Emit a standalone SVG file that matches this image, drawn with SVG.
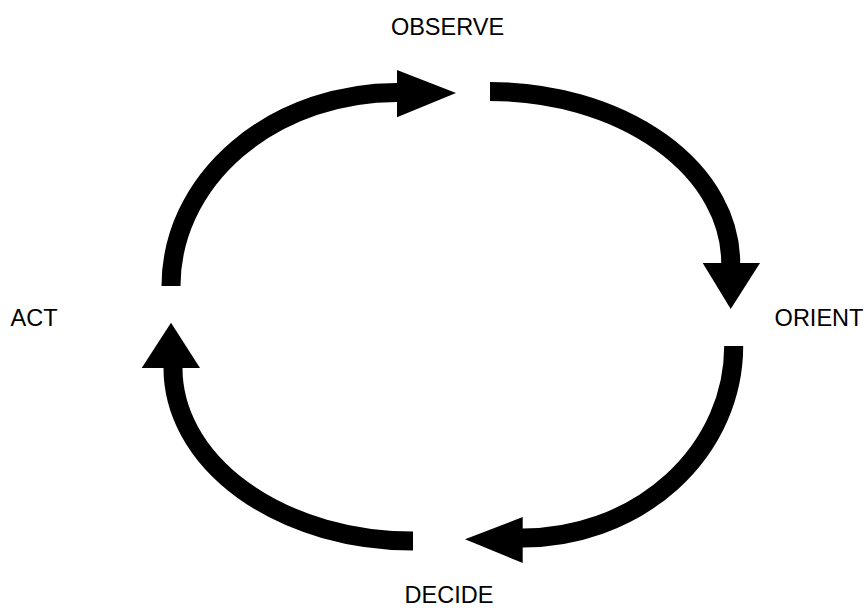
<svg xmlns="http://www.w3.org/2000/svg" width="867" height="608" viewBox="0 0 867 608">
<style>
.lbl{font-family:"Liberation Sans",Arial,sans-serif;font-size:23.5px;fill:#000;text-anchor:middle}
.arc{fill:none;stroke:#000;stroke-width:19}
.head{fill:#000;stroke:none}
</style>
<rect width="867" height="608" fill="#fff"/>
<g id="observe"><text class="lbl" x="447.5" y="35">OBSERVE</text></g>
<g id="orient"><text class="lbl" x="819" y="326">ORIENT</text></g>
<g id="decide"><text class="lbl" x="449" y="603">DECIDE</text></g>
<g id="act"><text class="lbl" x="34" y="326">ACT</text></g>
<g id="connectors">
<path class="arc" d="M171,286 A226,193.5 0 0 1 398,92.5"/>
<polygon class="head" points="397,70 456,93 397,117.3"/>
<path class="arc" d="M490,91.5 A240.7,171.5 0 0 1 730.7,264"/>
<polygon class="head" points="702.7,263 760,263 730.7,309"/>
<path class="arc" d="M733.7,346 A211,192 0 0 1 521.7,538"/>
<polygon class="head" points="522.7,517 522.7,563 465,539.3"/>
<path class="arc" d="M413,541 A240,173 0 0 1 173,367"/>
<polygon class="head" points="141.7,368 200,368 171,322.7"/>
</g>
</svg>
